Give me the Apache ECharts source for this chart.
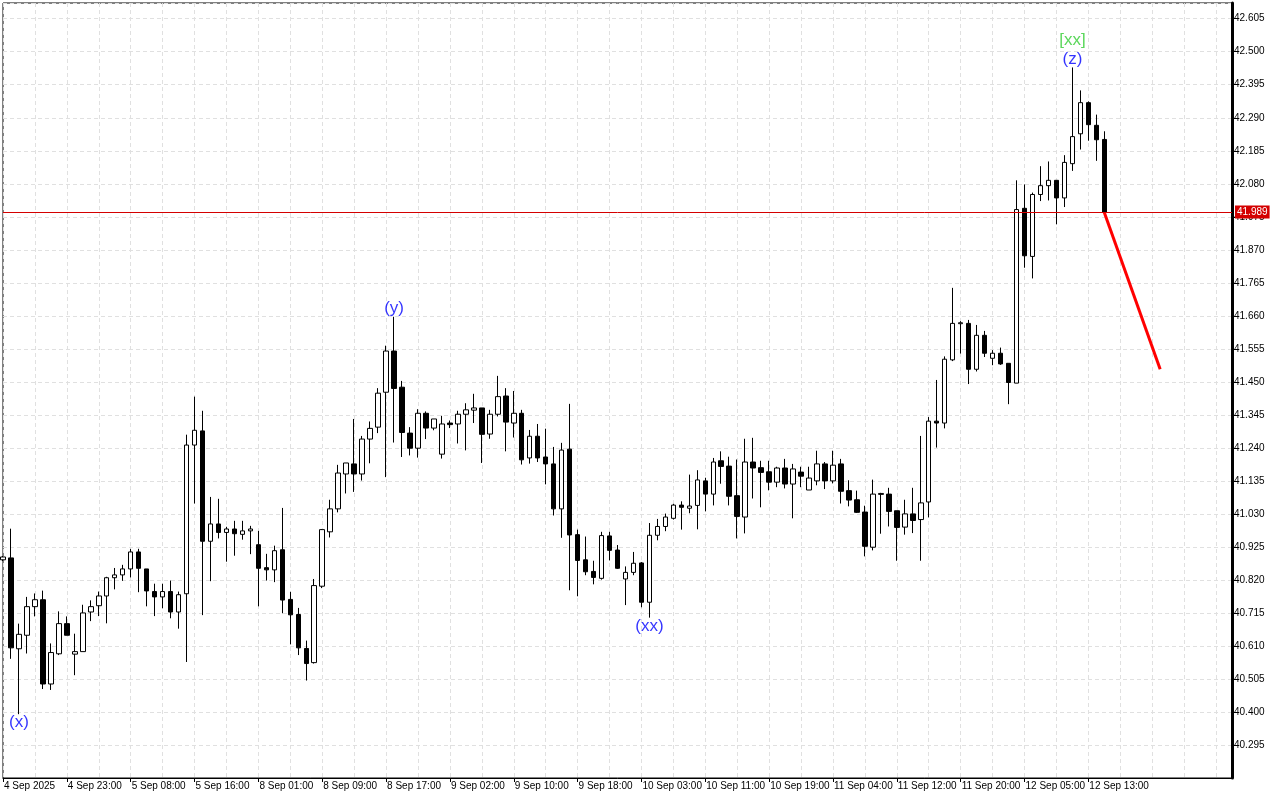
<!DOCTYPE html>
<html style="height: 100%">
<head>
<meta charset="utf-8">
<script src="https://cdn.jsdelivr.net/npm/echarts@6/dist/echarts.min.js"></script>
</head>
<body style="height: 100%; margin: 0; background: #fff">
<div id="container" style="width: 1280px; height: 800px"></div>
<script type="text/javascript">
// H1 bars, 4 Sep 2025 15:00 .. 12 Sep 2025 14:00 (server time, 00:00 bar and weekend missing)
var opens = [
  40.884, 40.890, 40.601, 40.644, 40.735, 40.757, 40.489, 40.585, 40.681, 40.584,
  40.592, 40.718, 40.738, 40.769, 40.827, 40.836, 40.855, 40.909, 40.855, 40.783,
  40.766, 40.783, 40.718, 40.776, 41.249, 41.294, 40.943, 40.998, 40.971, 40.982,
  40.965, 40.976, 40.932, 40.859, 40.852, 40.916, 40.758, 40.710, 40.602, 40.557,
  40.800, 40.973, 41.046, 41.157, 41.189, 41.157, 41.268, 41.306, 41.417, 41.548,
  41.433, 41.287, 41.239, 41.350, 41.303, 41.220, 41.319, 41.316, 41.347, 41.360,
  41.367, 41.284, 41.347, 41.405, 41.319, 41.350, 41.208, 41.277, 41.211, 41.189,
  41.046, 41.236, 40.964, 40.884, 40.847, 40.825, 40.960, 40.915, 40.823, 40.844,
  40.874, 40.749, 40.962, 40.990, 41.016, 41.058, 41.048, 41.057, 41.135, 41.093,
  41.199, 41.182, 41.088, 41.020, 41.195, 41.177, 41.164, 41.131, 41.176, 41.125,
  41.163, 41.106, 41.135, 41.189, 41.135, 41.189, 41.104, 41.075, 41.036, 40.924,
  41.092, 41.093, 41.040, 40.988, 41.030, 41.012, 41.068, 41.325, 41.319, 41.520,
  41.635, 41.636, 41.490, 41.598, 41.525, 41.541, 41.509, 41.446, 42.002, 41.849,
  42.046, 42.074, 42.091, 42.035, 42.144, 42.239, 42.338, 42.266, 42.221
];
var highs = [
  40.896, 40.983, 40.681, 40.766, 40.777, 40.786, 40.618, 40.720, 40.704, 40.649,
  40.741, 40.755, 40.783, 40.830, 40.858, 40.868, 40.919, 40.919, 40.855, 40.808,
  40.808, 40.818, 40.783, 41.282, 41.403, 41.358, 41.084, 41.078, 40.989, 41.008,
  41.008, 40.992, 40.976, 40.903, 40.929, 41.049, 40.782, 40.731, 40.627, 40.823,
  40.982, 41.075, 41.186, 41.192, 41.332, 41.278, 41.324, 41.430, 41.565, 41.657,
  41.453, 41.306, 41.363, 41.356, 41.332, 41.342, 41.327, 41.358, 41.382, 41.412,
  41.367, 41.361, 41.469, 41.430, 41.421, 41.361, 41.297, 41.316, 41.301, 41.243,
  41.256, 41.380, 40.980, 40.958, 40.881, 40.973, 40.973, 40.931, 40.863, 40.909,
  40.877, 41.001, 41.014, 41.031, 41.062, 41.070, 41.155, 41.169, 41.145, 41.208,
  41.229, 41.212, 41.203, 41.269, 41.272, 41.199, 41.199, 41.180, 41.205, 41.189,
  41.180, 41.180, 41.231, 41.195, 41.231, 41.205, 41.137, 41.104, 41.056, 41.139,
  41.097, 41.113, 41.040, 41.075, 41.113, 41.278, 41.338, 41.456, 41.531, 41.749,
  41.643, 41.647, 41.631, 41.612, 41.551, 41.559, 41.509, 42.091, 42.078, 42.052,
  42.136, 42.151, 42.091, 42.171, 42.450, 42.377, 42.342, 42.300, 42.247
];
var lows = [
  40.880, 40.569, 40.393, 40.586, 40.704, 40.473, 40.470, 40.581, 40.644, 40.517,
  40.592, 40.689, 40.705, 40.682, 40.790, 40.817, 40.828, 40.781, 40.736, 40.705,
  40.730, 40.698, 40.665, 40.559, 41.063, 40.708, 40.816, 40.952, 40.878, 40.897,
  40.948, 40.902, 40.736, 40.818, 40.813, 40.714, 40.615, 40.581, 40.500, 40.554,
  40.794, 40.955, 41.035, 41.095, 41.100, 41.136, 41.191, 41.287, 41.147, 41.257,
  41.211, 41.216, 41.209, 41.268, 41.296, 41.206, 41.303, 41.254, 41.232, 41.319,
  41.192, 41.269, 41.340, 41.229, 41.273, 41.187, 41.190, 41.195, 41.124, 41.025,
  40.954, 40.787, 40.768, 40.835, 40.806, 40.821, 40.882, 40.855, 40.740, 40.835,
  40.733, 40.700, 40.946, 40.975, 41.012, 40.980, 41.032, 40.981, 41.038, 41.057,
  41.126, 41.057, 40.952, 40.968, 41.079, 41.051, 41.105, 41.115, 41.111, 41.016,
  41.115, 41.106, 41.121, 41.109, 41.127, 41.063, 41.054, 41.033, 40.895, 40.914,
  40.967, 40.990, 40.881, 40.964, 40.969, 40.881, 41.019, 41.241, 41.302, 41.516,
  41.540, 41.443, 41.483, 41.529, 41.503, 41.504, 41.379, 41.446, 41.813, 41.779,
  42.025, 42.027, 41.951, 42.006, 42.121, 42.189, 42.217, 42.153, 41.989
];
var closes = [
  40.893, 40.604, 40.647, 40.735, 40.757, 40.489, 40.589, 40.681, 40.644, 40.592,
  40.715, 40.735, 40.769, 40.827, 40.836, 40.855, 40.909, 40.857, 40.785, 40.766,
  40.783, 40.718, 40.773, 41.249, 41.296, 40.943, 40.998, 40.971, 40.982, 40.967,
  40.976, 40.982, 40.857, 40.852, 40.913, 40.756, 40.709, 40.604, 40.554, 40.802,
  40.980, 41.046, 41.160, 41.192, 41.157, 41.268, 41.302, 41.414, 41.548, 41.429,
  41.289, 41.239, 41.350, 41.303, 41.332, 41.316, 41.314, 41.347, 41.361, 41.367,
  41.283, 41.347, 41.403, 41.322, 41.350, 41.202, 41.277, 41.208, 41.189, 41.046,
  41.233, 40.963, 40.882, 40.846, 40.828, 40.961, 40.914, 40.857, 40.844, 40.873,
  40.749, 40.962, 40.990, 41.020, 41.058, 41.051, 41.055, 41.138, 41.093, 41.195,
  41.181, 41.086, 41.022, 41.195, 41.176, 41.162, 41.131, 41.176, 41.125, 41.173,
  41.150, 41.144, 41.189, 41.135, 41.185, 41.102, 41.074, 41.035, 40.927, 41.093,
  41.095, 41.038, 40.987, 41.030, 41.009, 41.065, 41.325, 41.319, 41.522, 41.636,
  41.638, 41.490, 41.598, 41.541, 41.541, 41.507, 41.448, 41.998, 41.851, 42.046,
  42.074, 42.091, 42.035, 42.148, 42.230, 42.338, 42.268, 42.220, 41.989
];

// wave marks: bar index, text, placed above the high or below the low
var waveLabels = [
  { idx: 2,   text: '(x)',  side: 'low',  color: '#0000ff', dy: 0 },
  { idx: 49,  text: '(y)',  side: 'high', color: '#0000ff', dy: 0 },
  { idx: 81,  text: '(xx)', side: 'low',  color: '#0000ff', dy: 0 },
  { idx: 134, text: '(z)',  side: 'high', color: '#0000ff', dy: 0 },
  { idx: 134, text: '[xx]', side: 'high', color: '#32cd32', dy: -19 }
];

// forecast arrow: from last close to target
var projection = [[138, 41.989], [145, 41.49]];

var lastPrice = closes[closes.length - 1];
var totalBars = 155;

// hourly category labels, skipping the 00:00 bar and weekends
var MONTHS = ['Jan', 'Feb', 'Mar', 'Apr', 'May', 'Jun', 'Jul', 'Aug', 'Sep', 'Oct', 'Nov', 'Dec'];
var categories = [];
var t = Date.UTC(2025, 8, 4, 15);
while (categories.length < totalBars) {
  var d = new Date(t);
  var wd = d.getUTCDay(), hr = d.getUTCHours();
  if (wd !== 0 && wd !== 6 && hr !== 0) {
    categories.push(d.getUTCDate() + ' ' + MONTHS[d.getUTCMonth()] + ' ' + (hr < 10 ? '0' : '') + hr + ':00');
  }
  t += 3600000;
}
categories[0] = '4 Sep 2025';

var candles = opens.map(function (o, i) {
  return [o, closes[i], lows[i], highs[i]];
});

var labelSeriesData = waveLabels.map(function (w) {
  var v = w.side === 'high' ? highs[w.idx] : lows[w.idx];
  return {
    value: [w.idx, v],
    label: {
      show: true,
      formatter: w.text,
      position: w.side === 'high' ? 'top' : 'bottom',
      distance: 0,
      offset: [0, w.dy],
      color: w.color,
      fontSize: 17,
      fontFamily: 'Liberation Sans'
    }
  };
});

var shownTick = function (index) {
  return index % 8 === 0 && index < opens.length;
};

var dom = document.getElementById("container");
var myChart = echarts.init(dom);
var option = {
  animation: false,
  backgroundColor: '#fff',
  grid: {
    left: 3, right: 48, top: 3, bottom: 22,
    show: true, borderColor: '#000', borderWidth: 1, backgroundColor: '#fff'
  },
  xAxis: {
    type: 'category',
    data: categories,
    boundaryGap: false,
    axisLine: { lineStyle: { color: '#000', width: 1 } },
    axisTick: { show: true, interval: shownTick, length: 4, lineStyle: { color: '#000' } },
    axisLabel: {
      interval: shownTick,
      align: 'left',
      margin: 3,
      padding: [0, 0, 0, 1],
      color: '#000',
      fontSize: 10,
      fontFamily: 'Liberation Sans'
    },
    splitLine: { show: true, interval: 3, lineStyle: { color: '#e0e0e0', type: [4, 3] } }
  },
  yAxis: {
    type: 'value',
    position: 'right',
    min: 40.19,
    max: 42.655,
    interval: 0.105,
    axisLine: { show: true, lineStyle: { color: '#000', width: 3 } },
    axisTick: { show: true, length: 4, lineStyle: { color: '#000' } },
    axisLabel: {
      showMinLabel: false,
      showMaxLabel: false,
      margin: 2,
      color: '#000',
      fontSize: 10,
      fontFamily: 'Liberation Sans',
      formatter: function (v) { return v.toFixed(3); }
    },
    splitLine: { show: true, lineStyle: { color: '#e0e0e0', type: [4, 3] } }
  },
  series: [
    {
      type: 'candlestick',
      data: candles,
      barWidth: 5,
      itemStyle: {
        color: '#fff',
        color0: '#000',
        borderColor: '#000',
        borderColor0: '#000',
        borderWidth: 1
      },
      markLine: {
        silent: true,
        symbol: 'none',
        lineStyle: { color: '#d40000', width: 1, type: 'solid' },
        label: {
          position: 'end',
          distance: 3,
          formatter: lastPrice.toFixed(3),
          color: '#fff',
          backgroundColor: '#d40000',
          padding: [2, 2, 1, 2],
          fontSize: 10,
          fontFamily: 'Liberation Sans'
        },
        data: [{ yAxis: lastPrice }]
      }
    },
    {
      type: 'line',
      data: projection,
      showSymbol: false,
      lineStyle: { color: '#ff0000', width: 3 },
      z: 3
    },
    {
      type: 'scatter',
      data: labelSeriesData,
      symbolSize: 0,
      z: 4
    }
  ]
};
myChart.setOption(option);
</script>
</body>
</html>
